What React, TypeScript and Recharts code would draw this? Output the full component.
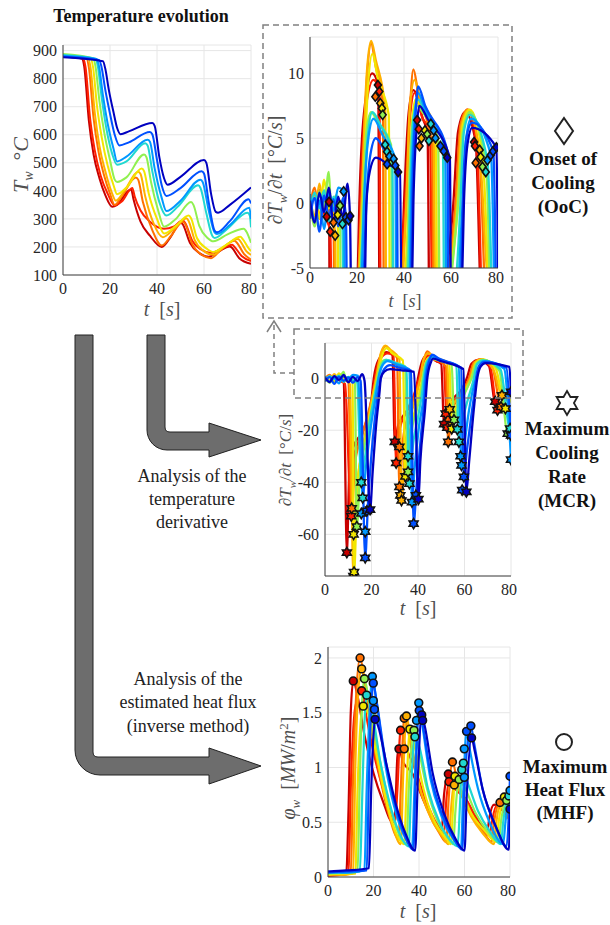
import { ComposedChart, Line, Scatter, XAxis, YAxis, CartesianGrid } from 'recharts';

// jet-like colours, one per run (red -> dark blue)
const RUN_COLORS = ['#c80000', '#ff2000', '#ff7000', '#ffb000', '#f2e600', '#90f050', '#20d8d0', '#0098ff', '#0050ff', '#0000c0'];

const TIME_TICKS = [0, 20, 40, 60, 80];

// ---- wall temperature T_w [°C] : [t, value]
const T0 = [[0,880],[8,872],[9,845],[11,650],[13,530],[15.5,445],[18,385],[21,343],[23,350],[28,402],[29,405],[30,370],[33,290],[37,240],[42,200],[46,238],[50,288],[51,280],[54,215],[58,178],[62,165],[66,182],[71,202],[72,196],[75,160],[80,140]];
const T1 = [[0,878],[8.6,872],[9.6,840],[11.5,660],[13.5,545],[16,455],[19,390],[22,348],[25,362],[29.5,410],[30.5,380],[33,330],[37,290],[43,265],[47,272],[51,295],[52,285],[55,222],[59,190],[63,178],[67,192],[72,208],[73,200],[76,168],[80,150]];
const T2 = [[0,878],[10,872],[11,840],[13,660],[15,545],[17.5,455],[20,390],[22,350],[25,380],[31,448],[32,440],[34,360],[38,260],[42,205],[46,240],[51,290],[52,282],[55,210],[59,172],[63,160],[67,188],[73,222],[74,215],[77,175],[80,155]];
const T3 = [[0,880],[10.7,872],[11.7,840],[13.5,680],[15.5,560],[18,470],[20.5,400],[22.5,365],[26,398],[32,468],[33,460],[35,380],[38.5,285],[42.5,235],[47,262],[52.5,302],[53.5,292],[56,225],[60,185],[64,172],[68,198],[74.5,228],[75.5,220],[78,185],[80,172]];
const T4 = [[0,882],[11.8,872],[12.8,840],[14.5,700],[16.5,590],[19,490],[21.5,420],[23,388],[27,412],[33.5,480],[34.5,470],[36.5,390],[40,300],[43,248],[48,275],[53.5,312],[54.5,302],[57,232],[61,195],[64,182],[69,205],[75.5,236],[76.5,228],[79,195],[80,185]];
const T5 = [[0,888],[12.8,873],[13.8,845],[15.5,720],[17.5,610],[20,510],[22,440],[23,432],[27,448],[34.5,530],[35.5,520],[37.5,430],[40.5,330],[43,272],[48,300],[54.5,360],[55.5,350],[58,275],[61.5,232],[64,220],[70,245],[77,265],[78,255],[80,215]];
const T6 = [[0,884],[13.8,871],[14.8,845],[16.5,730],[18.5,620],[21,530],[23,493],[27,505],[35,570],[36,562],[38,470],[41,360],[44,312],[49,345],[57.5,420],[58.5,410],[61,320],[63.5,240],[64.5,232],[70,265],[78.5,322],[79.5,312],[80,270]];
const T7 = [[0,882],[14.3,870],[15.3,845],[17,740],[19,640],[21.5,550],[23,505],[27,522],[36,582],[37,575],[39,480],[42,375],[44,328],[50,365],[58.5,440],[59.5,430],[62,330],[64.5,252],[65.5,246],[71,278],[79.3,340],[80,300]];
const T8 = [[0,878],[15.3,867],[16.3,845],[18,760],[20,675],[22,600],[24,562],[28,573],[37,610],[38,602],[40,510],[42,420],[44,382],[50,410],[59,470],[60,462],[62,360],[64.5,258],[65.5,252],[71,292],[79,370],[80,355]];
const T9 = [[0,876],[17,862],[18,835],[19.5,760],[21.5,680],[23,625],[24.5,602],[28,612],[38,642],[39,632],[41,520],[43,445],[44.5,422],[50,450],[60,510],[61,500],[63,390],[65,325],[66,322],[71,350],[80,412]];

// ---- temperature derivative dT_w/dt [°C/s]
const D0 = [[0,-0.5],[2,0.8],[4,-1.2],[6,0.3],[8,0.1],[9.4,-67],[10.5,-35],[12,-27],[15,-22],[18,-17],[20,-8],[21,0],[23,7],[26.5,10],[29,9.1],[30,-24.5],[31.5,-18],[34,-14],[37,-10],[39,-5],[40,0],[42,7],[44,8.7],[48,6.5],[50,5.4],[51.2,-17.7],[53,-10],[56,-7],[59,-4],[61,0],[63,5.5],[66,7],[70.5,4.7],[73.2,-9],[76,-7],[80,-5]];
const D1 = [[0,0.6],[2,-1.5],[4,1],[6,-0.8],[8.6,-2.2],[11.3,-53],[12.5,-30],[15,-23],[18,-16],[20.5,-7],[21.5,0],[23.5,7],[27,9.5],[29.5,8.6],[30.6,-32.6],[32,-20],[35,-13],[38,-7],[40.5,0],[42.5,6.5],[44.5,8.5],[48,6.5],[51,5.7],[52.6,-19],[54,-11],[57,-7],[60,-4],[62,0],[64,5.5],[67,7.2],[71,4.4],[74.2,-12.3],[77,-9],[80,-6]];
const D2 = [[0,-0.3],[2,1.2],[4,-1],[6,0.5],[8,-0.6],[10,-1.5],[11.5,-50],[13,-32],[16,-22],[19,-12],[22,0],[24,9],[26,12.3],[28,10.5],[31,7.7],[32,-42],[33.5,-24],[36,-14],[39,-6],[41,0],[42.5,7],[44,10.3],[46,8.5],[52,4.4],[53,-24.5],[54.5,-13],[57,-8],[60,-4],[62,0],[64,6],[67,7.2],[72,4.1],[75.7,-11],[78,-8],[80,-6]];
const D3 = [[0,0.4],[2,-1],[4,1.5],[6,-0.5],[8,0.8],[10.7,-2.5],[12.2,-76],[13.5,-45],[16,-28],[19,-14],[22,0],[24,9.5],[26,12.5],[28,11],[32,7.3],[32.9,-47],[34.5,-26],[37,-14],[39.5,-6],[41,0],[42.5,7.5],[44.5,9.5],[47,8],[52.5,6.1],[53.6,-12],[55,-10],[58,-7],[61,-3],[62.5,0],[64.5,6],[67.5,7.2],[72.5,3.1],[76.1,-6.6],[78,-7],[80,-6]];
const D4 = [[0,-0.8],[2,0.5],[4,-1.2],[6,1.8],[8,-0.4],[10,0.3],[11.8,-0.9],[12.5,-74.5],[14,-40],[17,-24],[20,-11],[22.5,0],[24.5,8.5],[26.5,11.5],[29,9.5],[33.5,6.8],[34.6,-38],[36,-24],[38.5,-13],[41,-4],[42,0],[43.5,6.5],[45,8],[48,7],[53.5,5.6],[54.5,-19.5],[56,-12],[59,-7],[62,-2],[63,0],[65,6],[68,7.2],[73.5,3.5],[77.6,-11.7],[80,-8]];
const D5 = [[0,0.3],[2,-1.8],[4,0.9],[6,-0.2],[8,2.4],[9,-0.5],[11,0.6],[12.8,-0.2],[13.7,-57],[15,-38],[18,-22],[21,-8],[22.5,0],[24,5.5],[26,7],[29,6.2],[34.5,4.5],[35.7,-36],[37,-22],[39.5,-12],[41.5,-4],[42,0],[43.5,6],[45.5,7.5],[48,7],[54.5,5],[55.5,-16],[57,-12],[60,-6],[63,0],[65,5.5],[68,7],[75,2.8],[78.6,-21.3],[80,-15]];
const D6 = [[0,-1],[2,0.8],[4,-0.4],[6,1],[8,-1.4],[10,0.5],[12,-0.8],[13.8,-1.6],[15.6,-40],[17,-32],[19,-18],[21.5,-6],[23,0],[24.5,5],[26.5,7],[30,6],[35,3.9],[36.3,-40.5],[37.5,-28],[40,-15],[42,-4],[42.5,0],[44,6.5],[46,8],[49,7],[56.5,4.8],[57.6,-24.5],[59,-17],[61.5,-8],[63.5,-2],[64,0],[65.5,5.5],[68,6.8],[75.5,3.3],[79.6,-19.4],[80,-17]];
const D7 = [[0,0.7],[2,-1.3],[4,0.2],[6,-2],[8,0.9],[10,-0.6],[12,1.2],[14.3,0.9],[16.2,-46],[17.5,-35],[19.5,-20],[22,-6],[23,0],[24.5,4.5],[27,6.5],[31,5.2],[36.3,3.4],[37.4,-47.6],[38.5,-35],[40.5,-18],[42.5,-6],[43,0],[44.5,6.5],[46,8.5],[49,7.2],[57.5,4.4],[58.7,-33.5],[60,-25],[62,-12],[64,-3],[65,0],[66.5,5],[68.5,6.5],[77,3.7],[80,-31.3]];
const D8 = [[0,-1.2],[2,0.4],[4,-2.2],[6,0.6],[8,-1],[10,0.3],[12,-1.8],[14,0.4],[15.3,-1.1],[17.3,-69],[18.5,-48],[20.5,-24],[22.5,-8],[24,0],[25.5,3.5],[28,5],[32,4],[37,2.9],[38.1,-55.9],[39.5,-40],[41.5,-20],[43,-6],[43.5,0],[45,7],[46,9],[49,7.5],[58.5,4],[59.7,-37.9],[61,-28],[63,-14],[64.5,-4],[65,0],[66.5,5],[69,6.2],[78,4],[80,-22]];
const D9 = [[0,0.2],[2,-1.5],[4,0.8],[6,-0.7],[8,1.2],[10,-1.6],[12,0.5],[14,-1.1],[16,1.5],[17,-1],[19.4,-50.5],[20.5,-36],[22,-18],[23.5,-5],[24,0],[25.5,2.5],[28,3.5],[33,3],[38.3,2.4],[40.2,-46.5],[41,-32],[43,-12],[44,0],[45.5,6],[46.5,7.5],[50,6.5],[59.5,3.5],[60.8,-43.7],[62,-32],[64,-12],[65.5,0],[67,4.5],[69,5.8],[79.3,4.3],[80,-5.3]];

// ---- estimated heat flux phi_w [MW/m²]
const Q0 = [[0,0.02],[4,0.03],[8,0.03],[9,0.6],[10,1.5],[11.1,1.79],[13,1.65],[16,1.3],[20,0.95],[24,0.7],[28.5,0.5],[29.5,0.6],[30.5,1.1],[31.2,1.17],[33,1.05],[37,0.95],[42,0.7],[47,0.5],[50,0.42],[51,0.75],[52.9,0.94],[55,0.85],[60,0.72],[65,0.55],[70,0.42],[71,0.55],[73,0.66],[76,0.62],[80,0.55]];
const Q1 = [[0,0.01],[5,0.02],[9,0.03],[10,0.8],[12,1.55],[14.8,1.7],[17,1.45],[21,1.05],[25,0.75],[29.5,0.5],[30.5,0.8],[31.9,1.34],[34,1.2],[38,1],[43,0.7],[48,0.48],[51,0.4],[52,0.7],[53.2,0.87],[56,0.8],[61,0.7],[66,0.5],[71,0.38],[72,0.5],[74,0.65],[77,0.6],[80,0.52]];
const Q2 = [[0,0.02],[6,0.02],[10,0.03],[11,0.9],[12.5,1.7],[14.1,2],[16,1.8],[19,1.35],[23,0.9],[27,0.55],[31,0.35],[32,0.8],[33.5,1.45],[35,1.35],[39,0.9],[44,0.6],[49,0.4],[52,0.32],[53,0.7],[54.7,1.05],[57,0.85],[62,0.6],[68,0.42],[72,0.32],[73,0.5],[75.6,0.68],[78,0.6],[80,0.5]];
const Q3 = [[0,0.03],[6,0.02],[11,0.03],[12,1],[13.5,1.75],[14.8,1.9],[17,1.7],[20,1.3],[24,0.85],[28,0.5],[32,0.3],[33,0.9],[34.5,1.47],[36,1.3],[40,0.85],[45,0.55],[50,0.38],[53,0.3],[54,0.6],[55.5,0.84],[58,0.78],[63,0.55],[68,0.4],[73,0.3],[74,0.5],[76.5,0.7],[80,0.6]];
const Q4 = [[0,0.02],[7,0.03],[12,0.03],[13,0.8],[14.5,1.45],[15.5,1.56],[17.5,1.5],[21,1.15],[25,0.75],[29,0.45],[33.5,0.3],[34.5,0.8],[36,1.35],[38,1.2],[42,0.8],[47,0.5],[52,0.35],[54,0.3],[55,0.65],[55.8,0.92],[58,0.82],[63,0.58],[69,0.42],[74,0.32],[75,0.5],[77.5,0.73],[80,0.65]];
const Q5 = [[0,0.03],[8,0.04],[13,0.05],[14,0.9],[15,1.6],[16,1.81],[18,1.6],[22,1.15],[26,0.75],[30,0.45],[34.5,0.3],[35.5,0.8],[37.8,1.34],[39,1.25],[43,0.85],[48,0.52],[53,0.35],[55,0.3],[56,0.6],[57.6,0.89],[60,0.82],[65,0.58],[70,0.42],[75,0.32],[76,0.5],[78.5,0.7],[80,0.66]];
const Q6 = [[0,0.04],[8,0.04],[14,0.05],[15,0.7],[16,1.4],[17,1.66],[19,1.55],[23,1.05],[27,0.68],[31,0.42],[35.5,0.28],[36.5,0.8],[38.2,1.28],[40,1.2],[44,0.8],[49,0.5],[54,0.33],[57,0.28],[58,0.65],[58.8,0.98],[61,0.88],[66,0.6],[71,0.42],[76,0.3],[77,0.5],[79.5,0.74],[80,0.72]];
const Q7 = [[0,0.05],[8,0.04],[16,0.06],[17,0.8],[18.5,1.6],[19.5,1.83],[21,1.65],[25,1.05],[29,0.65],[33,0.4],[37,0.28],[38,0.8],[39.9,1.59],[41,1.45],[45,0.9],[50,0.55],[55,0.35],[58.5,0.27],[59.3,0.7],[60.9,1.33],[62,1.2],[66,0.8],[71,0.5],[77,0.3],[78,0.5],[80,0.79]];
const Q8 = [[0,0.04],[8,0.05],[17,0.06],[18,0.9],[19,1.55],[19.9,1.77],[21,1.65],[25,1.1],[29,0.7],[33,0.42],[37.5,0.25],[38.5,0.9],[40.1,1.52],[41.5,1.4],[45,0.95],[50,0.58],[55,0.36],[59,0.25],[60,0.8],[62.8,1.38],[64,1.25],[68,0.8],[73,0.5],[78.5,0.28],[79.5,0.6],[80,0.92]];
const Q9 = [[0,0.05],[8,0.06],[18,0.08],[19,0.8],[20,1.3],[20.7,1.44],[22,1.38],[26,1],[30,0.65],[34,0.4],[38.3,0.24],[39.5,0.9],[41.2,1.48],[42.5,1.38],[46,0.95],[51,0.58],[56,0.35],[60,0.24],[61,0.75],[63.1,1.27],[64.5,1.15],[68,0.8],[74,0.45],[79.5,0.25],[80,0.62]];

// ---- detected events : [t, value, run index]
const OOC_MARKS = [
  [8.1,0.1,0],[7.1,-1.05,0],[8.6,-2.2,1],[10,-1.5,2],[10.7,-2.5,3],[11.8,-0.9,4],[12.8,-0.2,5],[13.8,-1.6,6],[14.3,0.9,7],[15.3,-1.1,8],[16.4,-1.3,8],[17.1,-1,9],
  [28.9,9.1,0],[29.5,8.6,1],[27.8,8.2,2],[29.9,7.7,3],[30.6,7.3,4],[30.9,6.8,5],[32,4.5,6],[32.8,3.95,6],[33.8,3.6,7],[35.6,3.4,7],[36.3,2.9,8],[37.5,2.4,9],[32.8,3,8],
  [45.6,6.4,0],[46.3,5.7,1],[46.6,4.4,2],[47.4,5,3],[48.9,5.6,4],[49.9,5.3,5],[50.6,4.8,6],[51.4,6.1,6],[52.6,5.6,7],[53.4,5,7],[55.5,4.4,8],[56.9,4,8],[58.4,3.5,9],
  [69.8,4.7,0],[70.2,4.4,1],[70.5,3.1,2],[72.2,4.1,3],[72.6,3.55,4],[73.4,2.8,5],[74.8,2.4,6],[75.5,3.3,7],[76.9,3.7,8],[77.9,4,8],[79.3,4.3,9],
];
const MCR_MARKS = [
  [9.4,-67,0],[11.3,-53,1],[11.5,-50,2],[12.2,-76,3],[12.5,-74.5,4],[12.3,-60,4],[13.7,-57,5],[15.6,-40,6],[16.2,-46,6],[15.6,-52,7],[17.3,-59,7],[17.3,-69,8],[18,-51,8],[19.4,-50.5,9],
  [30,-24.5,0],[30.6,-32.6,1],[32,-26.4,2],[32,-41.8,2],[32.4,-45,3],[32.9,-47,3],[34.6,-37.7,4],[35.7,-36,5],[35.7,-30,6],[36.3,-40.5,6],[37.4,-47.6,7],[38.1,-55.9,8],[39.1,-45,8],[40.2,-46.5,9],
  [51.2,-17.7,0],[51.9,-13.6,1],[52.6,-19,1],[53,-24.5,2],[53.6,-12,3],[54.5,-19.5,4],[55.5,-16,5],[56.9,-19.7,6],[57.6,-24.5,6],[58.3,-30,7],[58.7,-33.5,7],[59.7,-37.9,8],[59,-43,8],[60.8,-43.7,9],
  [73.2,-9,0],[74.2,-12.3,1],[75.7,-11,2],[76.1,-6.6,3],[77.6,-11.7,4],[78.6,-21.3,5],[79.6,-19.4,6],[80,-31.3,7],[80,-22,8],[80,-5.3,9],
];
const MHF_MARKS = [
  [11.1,1.79,0],[14.1,2,2],[14.8,1.9,3],[14.8,1.7,1],[16,1.81,5],[15.5,1.56,4],[17,1.66,6],[19.5,1.83,7],[19.9,1.77,8],[19.9,1.61,7],[20.4,1.53,8],[20.7,1.44,9],
  [31.2,1.17,0],[31.9,1.34,1],[33.5,1.17,2],[33.5,1.45,2],[34.5,1.47,3],[36,1.35,4],[37.8,1.34,5],[38.2,1.28,6],[38.9,1.43,7],[39.9,1.59,7],[40.1,1.52,8],[41.2,1.48,9],[41.6,1.43,9],
  [52.9,0.94,0],[53.2,0.87,1],[54.7,1.05,2],[55.5,0.84,3],[55.8,0.92,4],[57.6,0.89,5],[58.8,0.98,6],[59.5,1.04,6],[59.9,0.91,7],[59.9,1.17,7],[60.9,1.33,8],[62.8,1.38,8],[63.1,1.27,9],
  [75.6,0.68,2],[77.5,0.73,4],[78.5,0.7,5],[79.5,0.74,6],[80,0.92,8],[80,0.79,7],[80,0.62,9],
];

const toPts = (arr) => arr.map(([t, v]) => ({ t, v }));
const toMarks = (arr) => arr.map(([t, v, r]) => ({ t, v, r }));

const TEMP = [T0, T1, T2, T3, T4, T5, T6, T7, T8, T9].map(toPts);
const DERIV = [D0, D1, D2, D3, D4, D5, D6, D7, D8, D9].map(toPts);
const FLUX = [Q0, Q1, Q2, Q3, Q4, Q5, Q6, Q7, Q8, Q9].map(toPts);

const SERIF = "'Liberation Serif', 'Times New Roman', serif";
const TICK = { fontSize: 16, fill: '#262626', fontFamily: SERIF };
const LABEL = '#505050';

// marker shapes
const DiamondMark = (p) => {
  const { cx, cy, payload } = p;
  return <polygon points={`${cx},${cy - 4.6} ${cx + 3.5},${cy} ${cx},${cy + 4.6} ${cx - 3.5},${cy}`} fill={RUN_COLORS[payload.r]} stroke="#111" strokeWidth={1.6} />;
};
const hexagram = (cx, cy, R) => {
  const pts = [];
  for (let k = 0; k < 12; k++) {
    const a = (-90 + k * 30) * Math.PI / 180;
    const r = k % 2 === 0 ? R : R / Math.sqrt(3);
    pts.push(`${(cx + r * Math.cos(a)).toFixed(2)},${(cy + r * Math.sin(a)).toFixed(2)}`);
  }
  return pts.join(' ');
};
const StarMark = (p) => {
  const { cx, cy, payload } = p;
  return <polygon points={hexagram(cx, cy, 5.2)} fill={RUN_COLORS[payload.r]} stroke="#111" strokeWidth={1.5} />;
};
const CircleMark = (p) => {
  const { cx, cy, payload } = p;
  return <circle cx={cx} cy={cy} r={3.9} fill={RUN_COLORS[payload.r]} stroke="#111" strokeWidth={1.6} />;
};

function Panel({ x, y, w, h, yDomain, yTicks, runs, marks, shape, lineWidth, xTickGap = 4 }) {
  const YW = 44, XH = 28, MT = 4, MR = 6;
  return (
    <div style={{ position: 'absolute', left: x - YW, top: y - MT }}>
      <ComposedChart width={YW + w + MR} height={MT + h + XH} margin={{ top: MT, right: MR, bottom: 0, left: 0 }}>
        <CartesianGrid stroke="#e6e6e6" />
        <XAxis type="number" dataKey="t" domain={[0, 80]} ticks={TIME_TICKS} allowDataOverflow height={XH}
          tick={TICK} tickLine={false} tickSize={xTickGap} tickMargin={xTickGap} stroke="#404040" />
        <YAxis type="number" domain={yDomain} ticks={yTicks} allowDataOverflow width={YW}
          tick={TICK} tickLine={false} tickSize={3} tickMargin={3} stroke="#404040" />
        {runs.map((r, i) => (
          <Line key={i} data={r} dataKey="v" type="monotone" stroke={RUN_COLORS[i]} strokeWidth={lineWidth}
            dot={false} isAnimationActive={false} />
        ))}
        {marks && <Scatter data={toMarks(marks)} dataKey="v" shape={shape} isAnimationActive={false} />}
      </ComposedChart>
    </div>
  );
}

const Sub = ({ children, size }) => <tspan dy={5} fontSize={size} fontStyle="italic">{children}</tspan>;

export default function App() {
  return (
    <div style={{ position: 'absolute', left: 0, top: 0, width: 610, height: 925, background: '#fff', fontFamily: SERIF }}>
      <Panel x={63} y={45} w={188} h={230} yDomain={[100, 920]} yTicks={[100, 200, 300, 400, 500, 600, 700, 800, 900]} runs={TEMP} lineWidth={2} />
      <Panel x={310} y={37} w={188} h={231} yDomain={[-5, 12.8]} yTicks={[-5, 0, 5, 10]} runs={DERIV} marks={OOC_MARKS} shape={DiamondMark} lineWidth={2.3} xTickGap={2} />
      <Panel x={325} y={343} w={186} h={233} yDomain={[-76, 13.5]} yTicks={[-60, -40, -20, 0]} runs={DERIV} marks={MCR_MARKS} shape={StarMark} lineWidth={2.3} />
      <Panel x={328} y={647} w={182} h={230} yDomain={[0, 2.1]} yTicks={[0, 0.5, 1, 1.5, 2]} runs={FLUX} marks={MHF_MARKS} shape={CircleMark} lineWidth={2.2} />

      <svg width={610} height={925} style={{ position: 'absolute', left: 0, top: 0, pointerEvents: 'none' }} fontFamily={SERIF}>
        <text x={141} y={22} textAnchor="middle" fontWeight="bold" fontSize={18} fill="#111">Temperature evolution</text>

        {/* axis labels */}
        <text transform="translate(28,165) rotate(-90)" textAnchor="middle" fontSize={22} fill={LABEL}>
          <tspan fontStyle="italic">T</tspan><Sub size={14}>w</Sub><tspan dy={-5}>{'\u2002°'}</tspan><tspan fontStyle="italic">C</tspan>
        </text>
        <text x={162} y={316} textAnchor="middle" fontSize={20} fill={LABEL}><tspan fontStyle="italic">t</tspan>{'\u2002['}<tspan fontStyle="italic">s</tspan>]</text>

        <text transform="translate(282,170) rotate(-90)" textAnchor="middle" fontSize={20} fill={LABEL}>
          ∂<tspan fontStyle="italic">T</tspan><Sub size={13}>w</Sub><tspan dy={-5}>/∂</tspan><tspan fontStyle="italic">t</tspan>{'\u2002[°'}<tspan fontStyle="italic">C</tspan>/<tspan fontStyle="italic">s</tspan>]
        </text>
        <text x={405} y={307} textAnchor="middle" fontSize={18} fill={LABEL}><tspan fontStyle="italic">t</tspan>{'\u2002['}<tspan fontStyle="italic">s</tspan>]</text>

        <text transform="translate(291,460) rotate(-90)" textAnchor="middle" fontSize={17} fill={LABEL}>
          ∂<tspan fontStyle="italic">T</tspan><Sub size={11}>w</Sub><tspan dy={-5}>/∂</tspan><tspan fontStyle="italic">t</tspan>{'\u2002[°'}<tspan fontStyle="italic">C</tspan>/<tspan fontStyle="italic">s</tspan>]
        </text>
        <text x={418} y={615} textAnchor="middle" fontSize={20} fill={LABEL}><tspan fontStyle="italic">t</tspan>{'\u2002['}<tspan fontStyle="italic">s</tspan>]</text>

        <text transform="translate(295,768) rotate(-90)" textAnchor="middle" fontSize={20} fill={LABEL}>
          <tspan fontStyle="italic">φ</tspan><Sub size={13}>w</Sub><tspan dy={-5}>{'\u2002['}</tspan><tspan fontStyle="italic">MW</tspan>/<tspan fontStyle="italic">m</tspan><tspan dy={-7} fontSize={13}>2</tspan><tspan dy={7}>]</tspan>
        </text>
        <text x={418} y={918} textAnchor="middle" fontSize={20} fill={LABEL}><tspan fontStyle="italic">t</tspan>{'\u2002['}<tspan fontStyle="italic">s</tspan>]</text>

        {/* dashed zoom boxes */}
        <rect x={263} y={25} width={249} height={293} fill="none" stroke="#808080" strokeWidth={1.5} strokeDasharray="6 4" />
        <rect x={294} y={329} width={229} height={69} fill="none" stroke="#808080" strokeWidth={1.5} strokeDasharray="6 4" />
        <path d="M294 373 H274 V322" fill="none" stroke="#808080" strokeWidth={1.5} strokeDasharray="5 4" />
        <path d="M267 332 L274 321 L281 332" fill="none" stroke="#808080" strokeWidth={1.5} />

        {/* process arrows */}
        <path d="M147 335 V430 A20 20 0 0 0 167 450 H209 V457 L261 440 L209 423 V432 H170 Q165 432 165 427 V335 Z" fill="#6d6d6d" stroke="#222" strokeWidth={1} />
        <path d="M75 335 V750 A25 25 0 0 0 100 775 H209 V784 L261 766 L209 748 V757 H98 Q93 757 93 752 V335 Z" fill="#6d6d6d" stroke="#222" strokeWidth={1} />

        <g fontSize={18} fill="#222" textAnchor="middle">
          <text x={192} y={482}>Analysis of the</text>
          <text x={192} y={505}>temperature</text>
          <text x={192} y={528}>derivative</text>
          <text x={188} y={685}>Analysis of the</text>
          <text x={188} y={708}>estimated heat flux</text>
          <text x={188} y={732}>(inverse method)</text>
        </g>

        {/* event legends */}
        <polygon points="564,118 573,131 564,144 555,131" fill="#fff" stroke="#222" strokeWidth={2} />
        <polygon points={hexagram(567, 403, 12)} fill="#fff" stroke="#222" strokeWidth={1.8} />
        <circle cx={564} cy={742} r={8} fill="#fff" stroke="#222" strokeWidth={2} />
        <g fontSize={19} fontWeight="bold" fill="#111" textAnchor="middle">
          <text x={563} y={165}>Onset of</text>
          <text x={563} y={189}>Cooling</text>
          <text x={563} y={213}>(OoC)</text>
          <text x={567} y={435}>Maximum</text>
          <text x={567} y={459}>Cooling</text>
          <text x={567} y={483}>Rate</text>
          <text x={567} y={507}>(MCR)</text>
          <text x={565} y={773}>Maximum</text>
          <text x={565} y={796}>Heat Flux</text>
          <text x={565} y={819}>(MHF)</text>
        </g>
      </svg>
    </div>
  );
}
